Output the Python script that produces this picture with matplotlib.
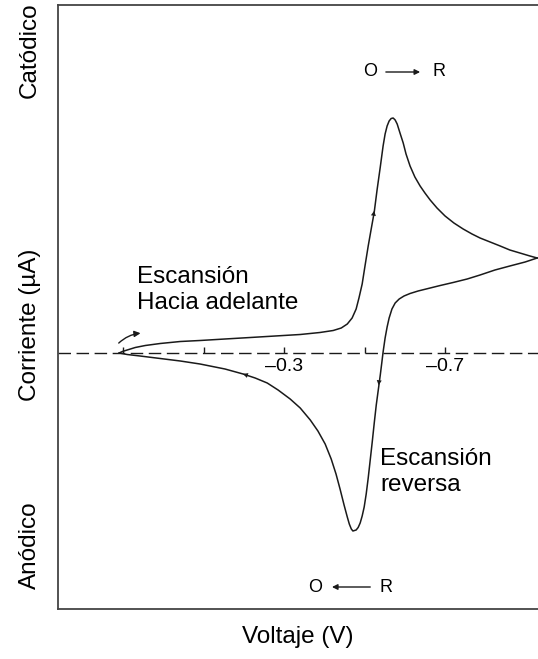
import matplotlib.pyplot as plt

plt.rcParams['font.family'] = ['Liberation Sans', 'DejaVu Sans']

# Forward scan (upper branch): potential in V, current in uA
fwd_E = [0.110, 0.102, 0.090, 0.070, 0.045, 0.008, -0.042, -0.091, -0.153,
         -0.216, -0.278, -0.340, -0.389, -0.422, -0.442, -0.457, -0.469,
         -0.479, -0.486, -0.494, -0.501, -0.509, -0.516, -0.524, -0.531,
         -0.539, -0.546, -0.551, -0.556, -0.561, -0.566, -0.571, -0.576,
         -0.581, -0.588, -0.596, -0.603, -0.613, -0.625, -0.638, -0.650,
         -0.663, -0.680, -0.700, -0.722, -0.745, -0.767, -0.787, -0.812,
         -0.837, -0.861, -0.886, -0.911, -0.929]
fwd_i = [0.0, 0.15, 0.3, 0.55, 0.75, 0.95, 1.15, 1.25, 1.4,
         1.55, 1.7, 1.85, 2.05, 2.25, 2.5, 2.9, 3.5,
         4.4, 5.5, 6.9, 8.7, 10.7, 12.3, 14.1, 16.3,
         18.6, 20.7, 21.9, 22.7, 23.2, 23.45, 23.5, 23.3,
         22.9, 22.0, 21.0, 19.9, 18.7, 17.6, 16.7, 16.0,
         15.3, 14.5, 13.7, 13.0, 12.4, 11.9, 11.5, 11.1,
         10.7, 10.3, 10.0, 9.7, 9.5]

# Reverse scan (lower branch)
rev_E = [-0.929, -0.899, -0.861, -0.824, -0.787, -0.755, -0.720, -0.688,
         -0.658, -0.633, -0.613, -0.598, -0.586, -0.576, -0.568, -0.561,
         -0.556, -0.551, -0.546, -0.543, -0.539, -0.534, -0.529, -0.524,
         -0.519, -0.514, -0.509, -0.504, -0.499, -0.494, -0.489, -0.484,
         -0.479, -0.471, -0.467, -0.462, -0.457, -0.449, -0.439, -0.429,
         -0.417, -0.402, -0.384, -0.365, -0.340, -0.315, -0.285, -0.258,
         -0.228, -0.198, -0.153, -0.091, -0.042, 0.008, 0.058, 0.090, 0.110]
rev_i = [9.5, 9.1, 8.7, 8.3, 7.8, 7.4, 7.05, 6.75,
         6.45, 6.2, 5.95, 5.7, 5.4, 5.0, 4.4, 3.5,
         2.6, 1.5, 0.1, -0.9, -2.2, -3.7, -5.2, -7.0,
         -8.9, -10.7, -12.5, -14.1, -15.4, -16.3, -17.0, -17.45,
         -17.7, -17.8, -17.6, -17.1, -16.4, -15.2, -13.6, -12.1,
         -10.6, -9.1, -7.8, -6.7, -5.5, -4.6, -3.7, -3.0,
         -2.5, -2.1, -1.6, -1.1, -0.8, -0.55, -0.3, -0.15, 0.0]

tick_E = [0.1, -0.1, -0.3, -0.5, -0.7]
label_E = [-0.3, -0.7]

ink = '#1a1a1a'

fig = plt.figure(figsize=(5.38, 6.59), dpi=100)
ax = fig.add_axes([58 / 538, 50 / 659, 480 / 538, 604 / 659])

ax.plot(fwd_E, fwd_i, color=ink, lw=1.1, solid_joinstyle='round', clip_on=False)
ax.plot(rev_E, rev_i, color=ink, lw=1.1, solid_joinstyle='round', clip_on=False)

# zero-current line with its own potential ticks
ax.axhline(0, color=ink, lw=1.0, ls=(0, (9, 4)))
ax.vlines(tick_E, 0, 0.55, color=ink, lw=1.0)
for e in label_E:
    ax.text(e, -1.4, '\u2013' + f'{abs(e):.1f}', ha='center', va='center', fontsize=14)

# small direction arrows along the curve
head = dict(arrowstyle='-|>', mutation_scale=9, lw=0, color=ink)
ax.annotate('', xy=(-0.525, 14.5), xytext=(-0.516, 12.3), arrowprops=head)
ax.annotate('', xy=(-0.534, -3.5), xytext=(-0.539, -1.9), arrowprops=head)
ax.annotate('', xy=(-0.191, -2.0), xytext=(-0.228, -2.5), arrowprops=head)
ax.annotate('', xy=(0.050, 2.0), xytext=(0.116, 0.8),
            arrowprops=dict(arrowstyle='-|>', mutation_scale=9, lw=1.0,
                            color=ink, connectionstyle='arc3,rad=-0.2'))

# redox direction labels
thin = dict(arrowstyle='-|>', mutation_scale=8, lw=1.0, color=ink)
ax.text(-0.514, 28.1, 'O', ha='center', va='center', fontsize=13)
ax.text(-0.685, 28.1, 'R', ha='center', va='center', fontsize=13)
ax.annotate('', xy=(-0.645, 28.1), xytext=(-0.546, 28.1), arrowprops=thin)
ax.text(-0.377, -23.4, 'O', ha='center', va='center', fontsize=13)
ax.text(-0.553, -23.4, 'R', ha='center', va='center', fontsize=13)
ax.annotate('', xy=(-0.412, -23.4), xytext=(-0.521, -23.4), arrowprops=thin)

ax.text(0.065, 6.3, 'Escansión\nHacia adelante', ha='left', va='center', fontsize=17.5)
ax.text(-0.539, -11.9, 'Escansión\nreversa', ha='left', va='center', fontsize=17.5)

ax.set_xlim(0.262, -0.931)
ax.set_ylim(-25.6, 34.8)
ax.set_xticks([])
ax.set_yticks([])
ax.spines['right'].set_visible(False)
for s in ['left', 'top', 'bottom']:
    ax.spines[s].set_color('#444444')
    ax.spines[s].set_linewidth(1.3)

fig.text(30 / 538, 1 - 50 / 659, 'Catódico', rotation=90, ha='center', va='center', fontsize=17.5)
fig.text(30 / 538, 1 - 325 / 659, 'Corriente (µA)', rotation=90, ha='center', va='center', fontsize=17.5)
fig.text(30 / 538, 1 - 545 / 659, 'Anódico', rotation=90, ha='center', va='center', fontsize=17.5)
fig.text(298 / 538, 1 - 637 / 659, 'Voltaje (V)', ha='center', va='center', fontsize=17.5)

fig.savefig('out.png', dpi=100)
